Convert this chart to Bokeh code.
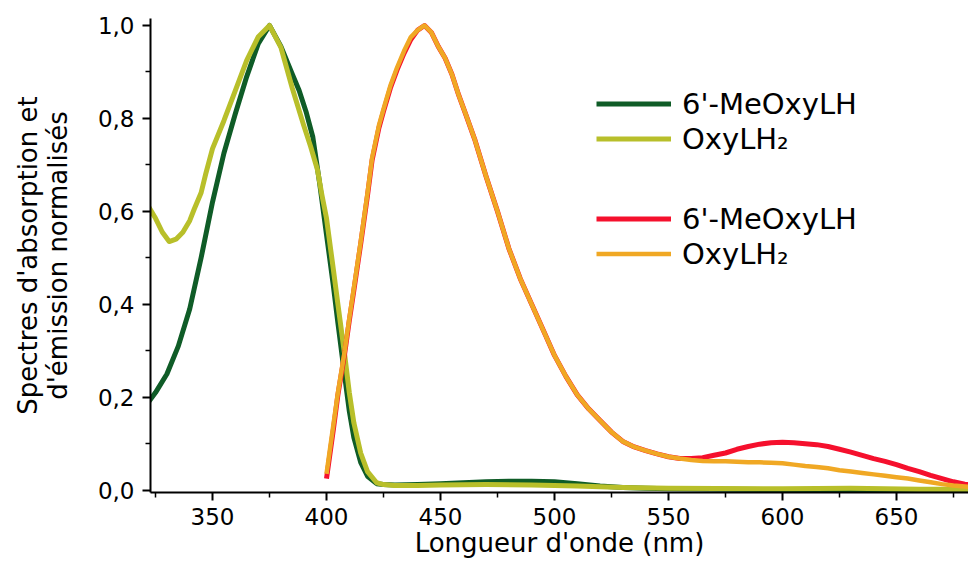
from bokeh.plotting import figure
from bokeh.models import (Range1d, FixedTicker, CustomJSTickFormatter, Legend, LegendItem)
from bokeh.embed import file_html
from bokeh.resources import INLINE

# ---- data ----
abs_meo_x = [322, 325, 330, 335, 340, 345, 350, 355, 360, 365, 370, 375, 380, 385, 388, 391,
             394, 397, 400, 403, 405, 408, 410, 412, 415, 418, 422, 425, 430, 440, 450, 460,
             470, 480, 490, 500, 510, 520, 530, 540, 550, 575, 600, 650, 690]
abs_meo_y = [0.19, 0.21, 0.25, 0.31, 0.39, 0.50, 0.62, 0.725, 0.81, 0.89, 0.96, 1.0, 0.955, 0.895,
             0.86, 0.815, 0.76, 0.66, 0.55, 0.44, 0.36, 0.245, 0.17, 0.113, 0.06, 0.03, 0.014,
             0.012, 0.011, 0.012, 0.014, 0.016, 0.018, 0.019, 0.019, 0.018, 0.014, 0.009, 0.006,
             0.004, 0.003, 0.002, 0.001, 0.001, 0.001]

abs_oxy_x = [322, 325, 328, 331, 334, 337, 340, 342, 345, 347, 350, 355, 360, 365, 370, 375,
             380, 385, 390, 393, 396, 398, 400, 403, 405, 408, 410, 412, 415, 418, 422, 425,
             430, 440, 450, 470, 490, 510, 530, 550, 600, 630, 660, 690]
abs_oxy_y = [0.61, 0.585, 0.555, 0.535, 0.54, 0.555, 0.58, 0.605, 0.64, 0.68, 0.735, 0.795, 0.86,
             0.925, 0.975, 1.0, 0.953, 0.865, 0.785, 0.74, 0.69, 0.635, 0.585, 0.475, 0.40, 0.29,
             0.21, 0.145, 0.08, 0.04, 0.016, 0.012, 0.01, 0.01, 0.011, 0.012, 0.011, 0.009,
             0.006, 0.004, 0.003, 0.004, 0.002, 0.002]

em_meo_x = [400, 403, 405, 408, 410, 412, 415, 418, 420, 423, 425, 428, 431, 434, 437, 440, 443,
            446, 449, 452, 455, 458, 461, 465, 470, 475, 480, 485, 490, 495, 500, 505, 510, 515,
            520, 525, 530, 535, 540, 545, 550, 555, 560, 565, 570, 575, 580, 585, 590, 595, 600,
            605, 610, 615, 620, 625, 630, 635, 640, 645, 650, 655, 660, 665, 670, 675, 680, 685, 690]
em_meo_y = [0.025, 0.13, 0.205, 0.295, 0.365, 0.43, 0.53, 0.635, 0.71, 0.78, 0.815, 0.865, 0.905,
            0.94, 0.97, 0.99, 1.0, 0.985, 0.955, 0.93, 0.895, 0.85, 0.81, 0.755, 0.675, 0.60,
            0.52, 0.455, 0.40, 0.345, 0.29, 0.245, 0.205, 0.175, 0.15, 0.125, 0.105, 0.093,
            0.085, 0.078, 0.072, 0.068, 0.068, 0.07, 0.075, 0.08, 0.088, 0.094, 0.099, 0.102,
            0.103, 0.102, 0.10, 0.098, 0.094, 0.088, 0.082, 0.075, 0.068, 0.062, 0.055, 0.047,
            0.04, 0.032, 0.025, 0.018, 0.013, 0.01, 0.008]

em_oxy_x = [400, 403, 405, 408, 410, 412, 415, 418, 420, 423, 425, 428, 431, 434, 437, 440, 443,
            446, 449, 452, 455, 458, 461, 465, 470, 475, 480, 485, 490, 495, 500, 505, 510, 515,
            520, 525, 530, 535, 540, 545, 550, 555, 560, 565, 570, 575, 580, 585, 590, 595, 600,
            605, 610, 615, 620, 625, 630, 635, 640, 645, 650, 655, 660, 665, 670, 675, 680, 685, 690]
em_oxy_y = [0.035, 0.14, 0.21, 0.30, 0.37, 0.435, 0.535, 0.64, 0.715, 0.785, 0.82, 0.87, 0.91,
            0.945, 0.975, 0.99, 1.0, 0.985, 0.955, 0.93, 0.895, 0.85, 0.81, 0.755, 0.675, 0.60,
            0.52, 0.455, 0.40, 0.345, 0.29, 0.245, 0.205, 0.175, 0.15, 0.125, 0.105, 0.093,
            0.085, 0.078, 0.072, 0.068, 0.065, 0.063, 0.062, 0.062, 0.061, 0.06, 0.06, 0.059,
            0.058, 0.055, 0.052, 0.05, 0.047, 0.043, 0.04, 0.037, 0.034, 0.031, 0.028, 0.025,
            0.021, 0.017, 0.013, 0.01, 0.008, 0.006, 0.005]

x_ticks = [350, 400, 450, 500, 550, 600, 650]
x_minor = [325, 375, 425, 475, 525, 575, 625, 675]
y_ticks = [0.0, 0.2, 0.4, 0.6, 0.8, 1.0]
y_minor = [0.1, 0.3, 0.5, 0.7, 0.9]

labels_abs = ["6'-MeOxyLH", "OxyLH\u2082"]
labels_em = ["6'-MeOxyLH", "OxyLH\u2082"]

FONT = "DejaVu Sans"

p = figure(width=968, height=562, output_backend="svg", toolbar_location=None,
           x_range=Range1d(322.8, 681.6), y_range=Range1d(-0.005, 1.015),
           min_border_left=150, min_border_right=0, min_border_top=18, min_border_bottom=70)

p.xgrid.visible = False
p.ygrid.visible = False
p.outline_line_color = None
p.background_fill_color = "white"
p.border_fill_color = "white"

r_meo = p.line(abs_meo_x, abs_meo_y, line_color="#0f5c27", line_width=5, line_join="round")
r_oxy = p.line(abs_oxy_x, abs_oxy_y, line_color="#b8bf2a", line_width=5, line_join="round")
r_em_meo = p.line(em_meo_x, em_meo_y, line_color="#f5102d", line_width=5, line_join="round")
r_em_oxy = p.line(em_oxy_x, em_oxy_y, line_color="#f0a824", line_width=4.5, line_join="round")

p.xaxis.ticker = FixedTicker(ticks=x_ticks, minor_ticks=x_minor)
p.yaxis.ticker = FixedTicker(ticks=y_ticks, minor_ticks=y_minor)
p.yaxis.formatter = CustomJSTickFormatter(code="return tick.toFixed(1).replace('.', ',');")

for ax in (p.xaxis[0], p.yaxis[0]):
    ax.axis_line_width = 2
    ax.axis_line_color = "black"
    ax.major_tick_line_color = "black"
    ax.minor_tick_line_color = "black"
    ax.major_tick_line_width = 2
    ax.minor_tick_line_width = 1.5
    ax.major_tick_in = 0
    ax.major_tick_out = 8
    ax.minor_tick_in = 0
    ax.minor_tick_out = 5
    ax.major_label_text_font = FONT
    ax.major_label_text_color = "black"
    ax.major_label_text_font_size = "23px"
    ax.axis_label_text_font = FONT
    ax.axis_label_text_font_style = "normal"
    ax.axis_label_text_color = "black"
    ax.axis_label_text_font_size = "26px"

p.xaxis.axis_label = "Longueur d'onde (nm)"
p.xaxis.major_label_standoff = 7
p.xaxis.axis_label_standoff = 0
p.yaxis.axis_label = "Spectres d'absorption et\nd'émission normalisés"
p.yaxis.axis_label_text_line_height = 1.0
p.yaxis.major_label_standoff = 8
p.yaxis.axis_label_standoff = 22

def make_legend(items, loc):
    lg = Legend(items=items, location=loc, orientation="vertical",
                label_text_font=FONT, label_text_font_size="29px", label_text_color="black",
                glyph_width=75, glyph_height=35, label_height=35, label_standoff=11,
                spacing=0, padding=0, margin=0, border_line_color=None,
                background_fill_alpha=0)
    return lg

leg1 = make_legend([LegendItem(label=labels_abs[0], renderers=[r_meo]),
                    LegendItem(label=labels_abs[1], renderers=[r_oxy])], (446, 336))
leg2 = make_legend([LegendItem(label=labels_em[0], renderers=[r_em_meo]),
                    LegendItem(label=labels_em[1], renderers=[r_em_oxy])], (446, 221))
p.add_layout(leg1, "center")
p.add_layout(leg2, "center")

open("out.html", "w").write(file_html(p, INLINE))
